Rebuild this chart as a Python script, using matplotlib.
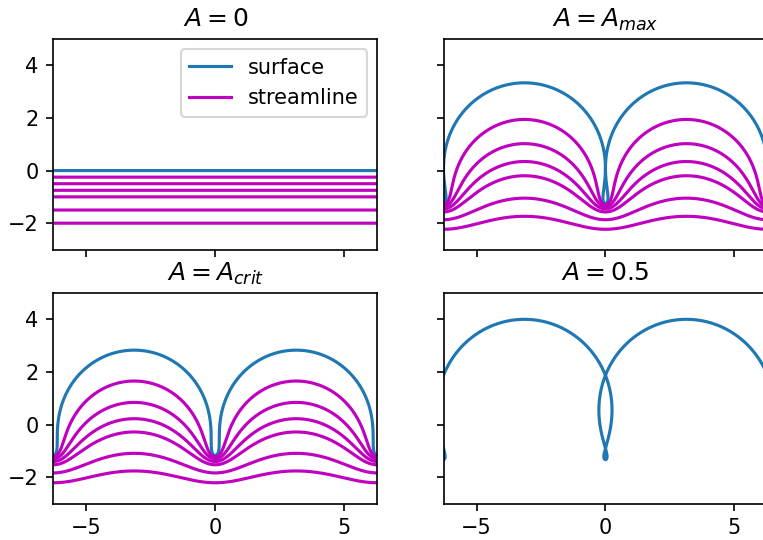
import numpy as np
import matplotlib
matplotlib.use("Agg")
import matplotlib.pyplot as plt

# Panel data
titles = ["$A = 0$", "$A = A_{max}$", "$A = A_{crit}$", "$A = 0.5$"]
A_values = [0.0, 0.45467, np.sqrt(2) - 1, 0.5]
show_streamlines = [True, True, True, False]
# stream function levels (surface is psi = 0)
surface_level = 0.0
stream_levels = [-0.25, -0.5, -0.75, -1.0, -1.5, -2.0]

phi = np.linspace(-2 * np.pi, 2 * np.pi, 4001)


def crapper(A, psi):
    w = phi + 1j * psi
    z = w + 4j / (1 + A * np.exp(-1j * w)) - 4j
    return z.real, z.imag


W, H = 763, 540
dpi = 150
fig = plt.figure(figsize=(W / dpi, H / dpi), dpi=dpi)

boxes = [
    (53.2, 39.0, 377.2, 249.5),
    (443.5, 39.0, 767.4, 249.5),
    (53.2, 293.0, 377.2, 503.5),
    (443.5, 293.0, 767.4, 503.5),
]
axes = []
for i, (x0, y0, x1, y1) in enumerate(boxes):
    kw = {}
    if i > 0:
        kw = dict(sharex=axes[0], sharey=axes[0])
    ax = fig.add_axes([x0 / W, 1 - y1 / H, (x1 - x0) / W, (y1 - y0) / H], **kw)
    axes.append(ax)

for i, ax in enumerate(axes):
    A = A_values[i]
    xs, ys = crapper(A, surface_level)
    ax.plot(xs, ys, color="C0", label="surface")
    if show_streamlines[i]:
        for j, lev in enumerate(stream_levels):
            xl, yl = crapper(A, lev)
            ax.plot(xl, yl, color="m", label="streamline" if j == 0 else None)
    ax.set_title(titles[i])
    ax.set_xlim(-2 * np.pi, 2 * np.pi)
    ax.set_ylim(-3, 5)
    ax.set_yticks([-2, 0, 2, 4])
    ax.set_xticks([-5, 0, 5])
    if i in (0, 1):
        ax.tick_params(labelbottom=False)
    if i in (1, 3):
        ax.tick_params(labelleft=False)

axes[0].legend(loc="upper right")

fig.savefig("out.png", dpi=dpi)
